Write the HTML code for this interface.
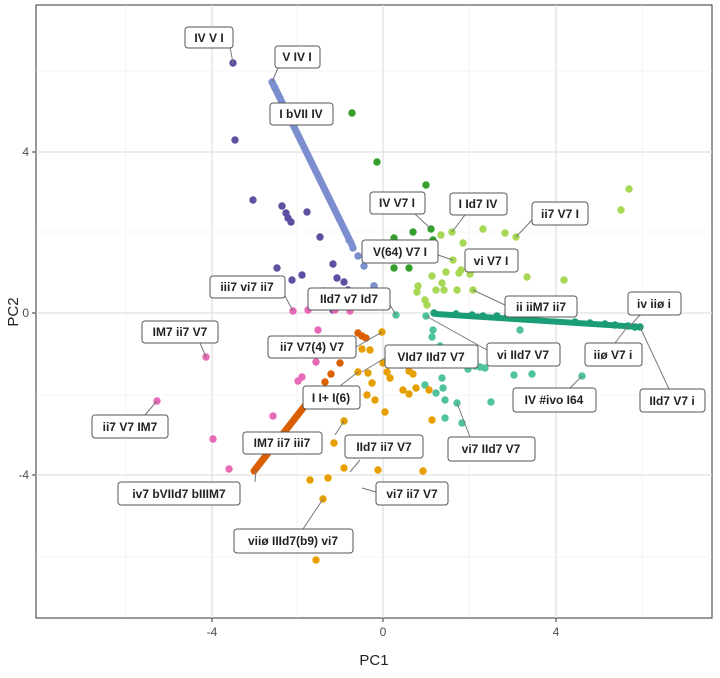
<!DOCTYPE html>
<html><head><meta charset="utf-8"><style>
body{margin:0;background:#fff;}
svg text{font-family:"Liberation Sans",sans-serif;}
.lb rect{fill:#fff;stroke:#555;stroke-width:1}
.lb text{font-size:12px;font-weight:bold;fill:#222;text-anchor:middle}
.ld{stroke:#777;stroke-width:1}
</style></head><body>
<svg width="720" height="673" viewBox="0 0 720 673" xmlns="http://www.w3.org/2000/svg">
<rect x="36" y="5" width="676" height="613" fill="#fff" stroke="#333" stroke-width="1"/>
<g stroke="#ebebeb" stroke-width="0.6">
<line x1="126" y1="5" x2="126" y2="618"/><line x1="297" y1="5" x2="297" y2="618"/><line x1="469" y1="5" x2="469" y2="618"/><line x1="642" y1="5" x2="642" y2="618"/>
<line x1="36" y1="71" x2="712" y2="71"/><line x1="36" y1="232" x2="712" y2="232"/><line x1="36" y1="395" x2="712" y2="395"/><line x1="36" y1="557" x2="712" y2="557"/>
</g>
<g stroke="#e0e0e0" stroke-width="1.2">
<line x1="212" y1="5" x2="212" y2="618"/><line x1="383" y1="5" x2="383" y2="618"/><line x1="556" y1="5" x2="556" y2="618"/>
<line x1="36" y1="152" x2="712" y2="152"/><line x1="36" y1="313" x2="712" y2="313"/><line x1="36" y1="475" x2="712" y2="475"/>
</g>
<g stroke="#333"><line x1="32" y1="152" x2="36" y2="152"/><line x1="32" y1="313" x2="36" y2="313"/><line x1="32" y1="475" x2="36" y2="475"/>
<line x1="212" y1="618" x2="212" y2="622"/><line x1="383" y1="618" x2="383" y2="622"/><line x1="556" y1="618" x2="556" y2="622"/></g>
<g font-size="12" fill="#4d4d4d" text-anchor="end"><text x="29" y="156">4</text><text x="29" y="317">0</text><text x="29" y="479">-4</text></g>
<g font-size="12" fill="#4d4d4d" text-anchor="middle"><text x="212" y="636">-4</text><text x="383" y="636">0</text><text x="556" y="636">4</text></g>
<text x="374" y="665" font-size="15" text-anchor="middle" fill="#222">PC1</text>
<text x="18" y="312" font-size="15" text-anchor="middle" fill="#222" transform="rotate(-90 18 312)">PC2</text>

<!-- lines -->
<line x1="273" y1="84" x2="352" y2="245" stroke="#7b8fcf" stroke-width="7" stroke-linecap="round"/>
<line x1="254" y1="471" x2="307" y2="403" stroke="#d95f02" stroke-width="7" stroke-linecap="round"/>
<line x1="436" y1="314" x2="640" y2="327" stroke="#1b9e77" stroke-width="6" stroke-linecap="round"/>

<g fill="#5e4fa2">
<circle cx="233" cy="63" r="3.7"/><circle cx="235" cy="140" r="3.7"/><circle cx="253" cy="200" r="3.7"/><circle cx="282" cy="206" r="3.7"/><circle cx="286" cy="213" r="3.7"/><circle cx="288" cy="218" r="3.7"/><circle cx="291" cy="222" r="3.7"/><circle cx="307" cy="212" r="3.7"/><circle cx="320" cy="237" r="3.7"/><circle cx="277" cy="268" r="3.7"/><circle cx="302" cy="275" r="3.7"/><circle cx="292" cy="280" r="3.7"/><circle cx="333" cy="264" r="3.7"/><circle cx="337" cy="278" r="3.7"/><circle cx="344" cy="282" r="3.7"/><circle cx="348" cy="290" r="3.7"/><circle cx="325" cy="291" r="3.7"/><circle cx="320" cy="300" r="3.7"/><circle cx="333" cy="310" r="3.7"/><circle cx="374" cy="286" r="3.7"/>
</g>
<g fill="#7b8fcf">
<circle cx="272" cy="82" r="3.7"/><circle cx="275" cy="88" r="3.7"/><circle cx="280" cy="98" r="3.7"/><circle cx="349" cy="240" r="3.7"/><circle cx="353" cy="248" r="3.7"/><circle cx="358" cy="256" r="3.7"/><circle cx="364" cy="266" r="3.7"/><circle cx="374" cy="286" r="3.7"/>
</g>
<g fill="#33a02c">
<circle cx="352" cy="113" r="3.7"/><circle cx="377" cy="162" r="3.7"/><circle cx="426" cy="185" r="3.7"/><circle cx="400" cy="198" r="3.7"/><circle cx="431" cy="229" r="3.7"/><circle cx="413" cy="232" r="3.7"/><circle cx="394" cy="238" r="3.7"/><circle cx="433" cy="240" r="3.7"/><circle cx="394" cy="268" r="3.7"/><circle cx="409" cy="268" r="3.7"/><circle cx="395" cy="258" r="3.7"/><circle cx="432" cy="251" r="3.7"/>
</g>
<g fill="#a6d854">
<circle cx="629" cy="189" r="3.7"/><circle cx="621" cy="210" r="3.7"/><circle cx="483" cy="229" r="3.7"/><circle cx="505" cy="233" r="3.7"/><circle cx="516" cy="237" r="3.7"/><circle cx="441" cy="235" r="3.7"/><circle cx="452" cy="232" r="3.7"/><circle cx="463" cy="243" r="3.7"/><circle cx="453" cy="260" r="3.7"/><circle cx="459" cy="273" r="3.7"/><circle cx="432" cy="276" r="3.7"/><circle cx="427" cy="260" r="3.7"/><circle cx="446" cy="272" r="3.7"/><circle cx="461" cy="270" r="3.7"/><circle cx="470" cy="274" r="3.7"/><circle cx="418" cy="286" r="3.7"/><circle cx="442" cy="283" r="3.7"/><circle cx="444" cy="290" r="3.7"/><circle cx="436" cy="290" r="3.7"/><circle cx="457" cy="290" r="3.7"/><circle cx="473" cy="290" r="3.7"/><circle cx="527" cy="277" r="3.7"/><circle cx="564" cy="280" r="3.7"/><circle cx="425" cy="300" r="3.7"/><circle cx="427" cy="305" r="3.7"/><circle cx="417" cy="292" r="3.7"/>
</g>
<g fill="#1b9e77">
<circle cx="434" cy="313" r="3.7"/><circle cx="456" cy="314" r="3.7"/><circle cx="472" cy="315" r="3.7"/><circle cx="483" cy="316" r="3.7"/><circle cx="497" cy="316" r="3.7"/><circle cx="507" cy="317" r="3.7"/><circle cx="520" cy="318" r="3.7"/><circle cx="575" cy="322" r="3.7"/><circle cx="590" cy="323" r="3.7"/><circle cx="605" cy="324" r="3.7"/><circle cx="615" cy="325" r="3.7"/><circle cx="628" cy="326" r="3.7"/><circle cx="635" cy="327" r="3.7"/><circle cx="640" cy="327" r="3.7"/>
</g>
<g fill="#4fc39a">
<circle cx="396" cy="315" r="3.7"/><circle cx="426" cy="316" r="3.7"/><circle cx="433" cy="330" r="3.7"/><circle cx="432" cy="337" r="3.7"/><circle cx="440" cy="346" r="3.7"/><circle cx="437" cy="355" r="3.7"/><circle cx="445" cy="360" r="3.7"/><circle cx="432" cy="360" r="3.7"/><circle cx="465" cy="358" r="3.7"/><circle cx="475" cy="366" r="3.7"/><circle cx="480" cy="367" r="3.7"/><circle cx="485" cy="368" r="3.7"/><circle cx="520" cy="330" r="3.7"/><circle cx="528" cy="356" r="3.7"/><circle cx="532" cy="374" r="3.7"/><circle cx="582" cy="376" r="3.7"/><circle cx="514" cy="375" r="3.7"/><circle cx="468" cy="369" r="3.7"/><circle cx="442" cy="378" r="3.7"/><circle cx="425" cy="385" r="3.7"/><circle cx="443" cy="388" r="3.7"/><circle cx="436" cy="393" r="3.7"/><circle cx="457" cy="403" r="3.7"/><circle cx="445" cy="400" r="3.7"/><circle cx="491" cy="402" r="3.7"/><circle cx="445" cy="418" r="3.7"/><circle cx="462" cy="423" r="3.7"/><circle cx="496" cy="360" r="3.7"/>
</g>
<g fill="#e69f00">
<circle cx="382" cy="332" r="3.7"/><circle cx="362" cy="349" r="3.7"/><circle cx="370" cy="350" r="3.7"/><circle cx="358" cy="372" r="3.7"/><circle cx="368" cy="373" r="3.7"/><circle cx="387" cy="372" r="3.7"/><circle cx="367" cy="395" r="3.7"/><circle cx="383" cy="363" r="3.7"/><circle cx="372" cy="383" r="3.7"/><circle cx="390" cy="378" r="3.7"/><circle cx="409" cy="371" r="3.7"/><circle cx="413" cy="374" r="3.7"/><circle cx="403" cy="390" r="3.7"/><circle cx="409" cy="394" r="3.7"/><circle cx="416" cy="388" r="3.7"/><circle cx="429" cy="390" r="3.7"/><circle cx="432" cy="420" r="3.7"/><circle cx="375" cy="400" r="3.7"/><circle cx="344" cy="421" r="3.7"/><circle cx="350" cy="440" r="3.7"/><circle cx="334" cy="443" r="3.7"/><circle cx="355" cy="455" r="3.7"/><circle cx="375" cy="445" r="3.7"/><circle cx="378" cy="470" r="3.7"/><circle cx="344" cy="468" r="3.7"/><circle cx="328" cy="478" r="3.7"/><circle cx="310" cy="480" r="3.7"/><circle cx="323" cy="499" r="3.7"/><circle cx="316" cy="560" r="3.7"/><circle cx="423" cy="471" r="3.7"/><circle cx="402" cy="440" r="3.7"/><circle cx="385" cy="412" r="3.7"/>
</g>
<g fill="#d95f02">
<circle cx="325" cy="382" r="3.7"/><circle cx="331" cy="374" r="3.7"/><circle cx="340" cy="363" r="3.7"/><circle cx="358" cy="333" r="3.7"/><circle cx="362" cy="336" r="3.7"/><circle cx="366" cy="338" r="3.7"/><circle cx="310" cy="398" r="3.7"/><circle cx="317" cy="390" r="3.7"/>
</g>
<g fill="#e869b5">
<circle cx="293" cy="311" r="3.7"/><circle cx="308" cy="310" r="3.7"/><circle cx="335" cy="310" r="3.7"/><circle cx="350" cy="311" r="3.7"/><circle cx="318" cy="330" r="3.7"/><circle cx="316" cy="362" r="3.7"/><circle cx="298" cy="381" r="3.7"/><circle cx="302" cy="377" r="3.7"/><circle cx="273" cy="416" r="3.7"/><circle cx="213" cy="439" r="3.7"/><circle cx="229" cy="469" r="3.7"/><circle cx="206" cy="357" r="3.7"/><circle cx="157" cy="401" r="3.7"/>
</g>

<!-- leaders -->
<g class="ld">
<line x1="230" y1="47" x2="233" y2="63"/><line x1="278" y1="68" x2="272" y2="82"/>
<line x1="415" y1="214" x2="430" y2="228"/><line x1="465" y1="215" x2="452" y2="232"/>
<line x1="532" y1="220" x2="516" y2="237"/><line x1="438" y1="255" x2="453" y2="260"/>
<line x1="285" y1="296" x2="293" y2="311"/><line x1="390" y1="305" x2="396" y2="315"/>
<line x1="505" y1="305" x2="473" y2="290"/><line x1="640" y1="315" x2="630" y2="326"/>
<line x1="200" y1="343" x2="206" y2="357"/><line x1="356" y1="347" x2="382" y2="332"/>
<line x1="385" y1="358" x2="362" y2="372"/><line x1="487" y1="350" x2="426" y2="316"/>
<line x1="615" y1="343" x2="628" y2="326"/><line x1="570" y1="388" x2="582" y2="376"/>
<line x1="340" y1="386" x2="358" y2="372"/><line x1="669" y1="389" x2="640" y2="327"/>
<line x1="145" y1="415" x2="157" y2="401"/><line x1="255" y1="482" x2="256" y2="470"/>
<line x1="335" y1="435" x2="344" y2="421"/><line x1="470" y1="437" x2="457" y2="403"/>
<line x1="376" y1="492" x2="362" y2="488"/><line x1="303" y1="529" x2="323" y2="499"/>
<line x1="360" y1="460" x2="350" y2="472"/>
</g>
<!-- labels -->
<g class="lb">
<rect x="185" y="27" width="48" height="21" rx="3"/><text x="209" y="42">IV V I</text>
<rect x="275" y="46" width="45" height="22" rx="3"/><text x="297" y="61">V IV I</text>
<rect x="270" y="103" width="63" height="22" rx="3"/><text x="301" y="118">I bVII IV</text>
<rect x="370" y="192" width="55" height="22" rx="3"/><text x="397" y="207">IV V7 I</text>
<rect x="450" y="193" width="57" height="22" rx="3"/><text x="478" y="208">I Id7 IV</text>
<rect x="532" y="202" width="56" height="23" rx="3"/><text x="560" y="218">ii7 V7 I</text>
<rect x="362" y="240" width="76" height="23" rx="3"/><text x="400" y="256">V(64) V7 I</text>
<rect x="465" y="249" width="53" height="23" rx="3"/><text x="491" y="265">vi V7 I</text>
<rect x="210" y="276" width="75" height="22" rx="3"/><text x="247" y="291">iii7 vi7 ii7</text>
<rect x="308" y="288" width="82" height="22" rx="3"/><text x="349" y="303">IId7 v7 Id7</text>
<rect x="505" y="296" width="72" height="21" rx="3"/><text x="541" y="311">ii iiM7 ii7</text>
<rect x="628" y="292" width="53" height="23" rx="3"/><text x="654" y="308">iv iiø i</text>
<rect x="142" y="321" width="76" height="22" rx="3"/><text x="180" y="336">IM7 ii7 V7</text>
<rect x="268" y="336" width="88" height="22" rx="3"/><text x="312" y="351">ii7 V7(4) V7</text>
<rect x="385" y="345" width="93" height="23" rx="3"/><text x="431" y="361">VId7 IId7 V7</text>
<rect x="487" y="343" width="73" height="23" rx="3"/><text x="523" y="359">vi IId7 V7</text>
<rect x="585" y="343" width="57" height="23" rx="3"/><text x="613" y="359">iiø V7 i</text>
<rect x="513" y="388" width="83" height="24" rx="3"/><text x="554" y="404">IV #ivo I64</text>
<rect x="303" y="386" width="57" height="23" rx="3"/><text x="331" y="402">I I+ I(6)</text>
<rect x="640" y="389" width="65" height="23" rx="3"/><text x="672" y="405">IId7 V7 i</text>
<rect x="92" y="415" width="76" height="23" rx="3"/><text x="130" y="431">ii7 V7 IM7</text>
<rect x="243" y="432" width="79" height="22" rx="3"/><text x="282" y="447">IM7 ii7 iii7</text>
<rect x="345" y="435" width="78" height="23" rx="3"/><text x="384" y="451">IId7 ii7 V7</text>
<rect x="448" y="437" width="87" height="24" rx="3"/><text x="491" y="453">vi7 IId7 V7</text>
<rect x="118" y="482" width="122" height="23" rx="3"/><text x="179" y="498">iv7 bVIId7 bIIIM7</text>
<rect x="376" y="482" width="72" height="23" rx="3"/><text x="412" y="498">vi7 ii7 V7</text>
<rect x="234" y="529" width="119" height="24" rx="3"/><text x="293" y="545">viiø IIId7(b9) vi7</text>
</g>
</svg>
</body></html>
